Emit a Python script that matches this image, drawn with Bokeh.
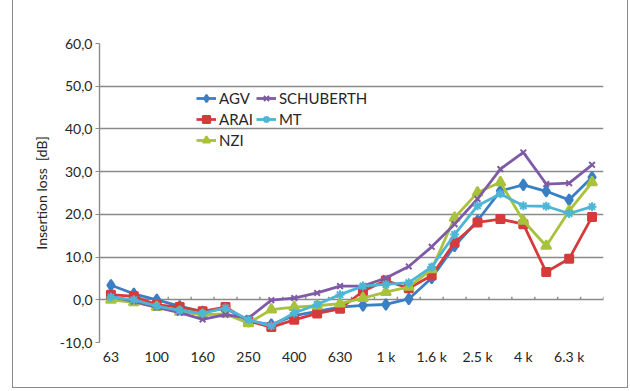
from bokeh.plotting import figure
from bokeh.models import Legend, LegendItem, FixedTicker, Range1d
from bokeh.embed import file_html
from bokeh.resources import INLINE

bands = ["63", "80", "100", "125", "160", "200", "250", "315", "400", "500", "630", "800",
         "1 k", "1.25 k", "1.6 k", "2 k", "2.5 k", "3.15 k", "4 k", "5 k", "6.3 k", "8 k"]

agv = [3.4, 1.4, 0.0, -1.5, -2.8, -2.0, -5.0, -5.8, -3.7, -2.7, -1.7, -1.3,
       -1.1, 0.2, 5.1, 12.6, 18.5, 25.5, 26.9, 25.4, 23.4, 28.7]
arai = [1.2, 0.8, -1.2, -1.7, -2.7, -1.7, -5.0, -6.4, -4.7, -3.2, -2.1, 2.0,
        4.5, 2.7, 5.7, 13.4, 18.1, 18.9, 17.7, 6.5, 9.6, 19.4]
nzi = [0.0, -0.6, -1.7, -2.8, -3.5, -3.3, -5.5, -2.3, -1.7, -1.4, -0.9, 0.4,
       1.8, 3.0, 7.1, 19.2, 25.1, 27.5, 18.5, 12.6, 20.8, 27.5]
schuberth = [0.8, -0.4, -1.8, -3.0, -4.6, -3.5, -4.3, -0.1, 0.4, 1.6, 3.2, 3.2,
             5.1, 7.8, 12.4, 17.7, 23.6, 30.6, 34.5, 27.1, 27.3, 31.6]
mt = [0.6, 0.0, -1.5, -2.5, -3.2, -1.9, -4.7, -6.1, -3.1, -1.1, 1.2, 3.2,
      3.6, 4.0, 7.7, 15.3, 22.0, 24.8, 22.0, 21.9, 20.2, 21.8]

y_ticks = [-10, 0, 10, 20, 30, 40, 50, 60]

FONT = "Lato"
TXT = "#262626"
GRID = "#8a8a8a"

# category slots: band i is centred at i + 0.5
xs = [i + 0.5 for i in range(len(bands))]
shown = [xs[i] for i in range(0, len(bands), 2)]

p = figure(x_range=Range1d(0, len(bands)), y_range=Range1d(-10, 60), width=616, height=388,
           output_backend="svg", toolbar_location=None,
           min_border_left=86, min_border_right=26, min_border_top=43, min_border_bottom=46)
p.margin = (0, 0, 0, 12)
p.styles = {"border-left": "1px solid #8a8a8a", "border-right": "1px solid #8a8a8a",
            "border-bottom": "1px solid #8a8a8a", "box-sizing": "border-box"}
p.outline_line_color = None
p.xgrid.grid_line_color = None
p.ygrid.grid_line_color = GRID
p.ygrid.grid_line_width = 1.4
p.yaxis.ticker = FixedTicker(ticks=y_ticks)
p.yaxis.major_label_overrides = {v: f"{v:.1f}".replace(".", ",") for v in y_ticks}
p.yaxis.axis_line_color = GRID
p.yaxis.axis_line_width = 1.4
p.yaxis.major_tick_line_color = GRID
p.yaxis.major_tick_out = 4
p.yaxis.major_tick_in = 0
p.yaxis.minor_tick_line_color = None
p.yaxis.major_label_standoff = 3
p.yaxis.axis_label = "Insertion loss\u00a0 [dB]"
p.yaxis.axis_label_standoff = 7
p.yaxis.axis_label_text_font_style = "normal"

p.xaxis.ticker = FixedTicker(ticks=shown, minor_ticks=[])
p.xaxis.major_label_overrides = {xs[i]: bands[i] for i in range(0, len(bands), 2)}
p.xaxis.axis_line_color = None
p.xaxis.major_tick_line_color = None
p.xaxis.minor_tick_line_color = None
p.xaxis.major_tick_out = 0
p.xaxis.major_tick_in = 0
p.xaxis.minor_tick_out = 0
p.xaxis.major_label_standoff = 5

for ax in (p.xaxis, p.yaxis):
    ax.major_label_text_font = FONT
    ax.major_label_text_font_size = "14px"
    ax.major_label_text_color = TXT
    ax.axis_label_text_font = FONT
    ax.axis_label_text_font_size = "14px"
    ax.axis_label_text_color = TXT

# category-boundary tick marks along the zero line
bounds = list(range(len(bands) + 1))
p.segment(x0=bounds, y0=[0] * len(bounds), x1=bounds, y1=[0.7] * len(bounds),
          line_color=GRID, line_width=1.4)

series = [
    ("AGV", agv, "#3a7fc3", "diamond", 11),
    ("ARAI", arai, "#d63b3c", "square", 8),
    ("NZI", nzi, "#a9c23b", "triangle", 10),
    ("SCHUBERTH", schuberth, "#7f5aa6", "x", 8),
    ("MT", mt, "#4db5d5", "asterisk", 9),
]
items = {}
for name, vals, col, mk, sz in series:
    l = p.line(xs, vals, line_color=col, line_width=2.8)
    s = p.scatter(xs, vals, marker=mk, size=sz, fill_color=col, line_color=col, line_width=2)
    items[name] = LegendItem(label=name, renderers=[l, s])

legend = Legend(items=[items[n] for n in ["AGV", "SCHUBERTH", "ARAI", "MT", "NZI"]],
                orientation="horizontal", ncols=2,
                location=(97, 193), background_fill_alpha=0, border_line_color=None,
                padding=0, margin=0, spacing=3, label_standoff=3,
                glyph_width=20, glyph_height=18, label_height=18,
                label_text_font=FONT, label_text_font_size="15px", label_text_color=TXT)
p.add_layout(legend, "center")

open("out.html", "w").write(file_html(p, INLINE))
